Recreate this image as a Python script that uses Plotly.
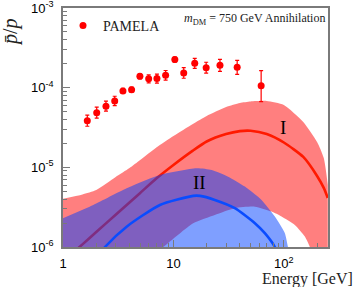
import math
import plotly.graph_objects as go

# ---------------- data ----------------
pamela_E = [1.66, 2.02, 2.45, 2.94, 3.49, 4.18, 4.97, 5.97, 7.09, 8.5,
            10.3, 12.4, 15.6, 19.8, 26.4, 37.8, 62.3]
pamela_ratio = [3.85e-5, 4.86e-5, 5.85e-5, 6.81e-5, 9.1e-5, 9.44e-5, 1.39e-4,
                1.29e-4, 1.30e-4, 1.43e-4, 2.25e-4, 1.53e-4, 2.02e-4, 1.78e-4,
                1.91e-4, 1.80e-4, 1.06e-4]
pamela_err_hi = [6.6e-6, 8.4e-6, 9.1e-6, 9.9e-6, 6.8e-6, 7.1e-6, 1.04e-5,
                 1.59e-5, 1.81e-5, 2.13e-5, 1.69e-5, 2.54e-5, 3.13e-5, 3.06e-5,
                 3.61e-5, 4.03e-5, 5.76e-5]
pamela_err_lo = [5.7e-6, 7.1e-6, 7.8e-6, 8.6e-6, 6.3e-6, 6.6e-6, 9.7e-6,
                 1.41e-5, 1.59e-5, 1.85e-5, 1.57e-5, 2.18e-5, 2.71e-5, 2.61e-5,
                 3.04e-5, 3.29e-5, 3.92e-5]

# Model I (red): band upper / lower edges and central curve
grid_E = [1, 1.5, 2, 3, 4, 5, 7, 10, 15, 20, 30, 40, 50, 70, 100, 150, 200, 230, 250]
red_band_hi = [4.02e-6, 4.57e-6, 5.20e-6, 7.58e-6, 9.82e-6, 1.24e-5, 1.78e-5,
               2.48e-5, 3.51e-5, 4.42e-5, 5.73e-5, 6.43e-5, 6.71e-5, 6.81e-5,
               6.07e-5, 3.71e-5, 2.08e-5, 1.31e-5, 6.02e-6]
red_line = [6.5e-7, 1.08e-6, 1.54e-6, 2.54e-6, 3.62e-6, 4.77e-6, 7.23e-6,
            1.07e-5, 1.62e-5, 2.11e-5, 2.62e-5, 2.85e-5, 2.88e-5, 2.62e-5,
            2.05e-5, 1.35e-5, 7.80e-6, 5.52e-6, 4.13e-6]
red_lo_E = [1, 3, 8.09, 15.1, 23.7, 36.0, 54.7, 77.4, 95.3, 125.8, 155, 172, 200, 250]
red_band_lo = [1.2e-7, 3.6e-7, 1.0e-6, 1.99e-6, 2.53e-6, 3.07e-6, 3.21e-6,
               2.78e-6, 2.41e-6, 1.89e-6, 1.35e-6, 1.0e-6, 5e-7, 2.5e-7]

# Model II (blue)
blue_hi_E = [1, 1.88, 3.77, 7.55, 16.2, 22.2, 31.3, 44.4, 62.8, 82.9, 102, 109, 130]
blue_band_hi = [2.30e-6, 3.37e-6, 5.47e-6, 8.03e-6, 9.75e-6, 9.27e-6, 7.64e-6,
                5.73e-6, 3.90e-6, 2.41e-6, 1.50e-6, 1.0e-6, 3e-7]
blue_lo_E = [1, 130]
blue_band_lo = [3e-7, 3e-7]
blue_line_E = [1, 2.40, 3.77, 7.55, 15.1, 17.4, 23.7, 36.0, 54.7, 67.3, 82.9, 100]
blue_line = [2e-7, 1.0e-6, 1.80e-6, 3.37e-6, 4.38e-6, 4.38e-6, 3.90e-6,
             3.07e-6, 1.99e-6, 1.49e-6, 1.0e-6, 5e-7]

# axis ticks
x_tickvals = [1, 10, 100]
x_ticktext = ["1", "10", "10<sup>2</sup>"]
y_tickvals = [1e-6, 1e-5, 1e-4, 1e-3]
y_ticktext = ["10<sup>-6</sup>", "10<sup>-5</sup>", "10<sup>-4</sup>", "10<sup>-3</sup>"]

# curve labels (position in data units)
label_I_pos = (98, 3.2e-5)
label_II_pos = (17.4, 6.4e-6)

# ---------------- figure ----------------
RED_FILL = "rgba(255,0,0,0.5)"
BLUE_FILL = "rgba(0,64,255,0.5)"
SERIF = "Liberation Serif"
SANS = "Liberation Sans"

fig = go.Figure()

fig.add_trace(go.Scatter(x=red_lo_E, y=red_band_lo, mode="lines",
                         line=dict(width=0, shape="spline", smoothing=0.6),
                         showlegend=False, hoverinfo="skip"))
fig.add_trace(go.Scatter(x=grid_E, y=red_band_hi, mode="lines", fill="tonexty",
                         fillcolor=RED_FILL,
                         line=dict(width=0, shape="spline", smoothing=0.6),
                         showlegend=False, hoverinfo="skip"))
fig.add_trace(go.Scatter(x=grid_E, y=red_line, mode="lines",
                         line=dict(color="#ff1a00", width=2.6, shape="spline", smoothing=0.6),
                         showlegend=False, hoverinfo="skip"))
fig.add_trace(go.Scatter(x=blue_lo_E, y=blue_band_lo, mode="lines",
                         line=dict(width=0),
                         showlegend=False, hoverinfo="skip"))
fig.add_trace(go.Scatter(x=blue_hi_E, y=blue_band_hi, mode="lines", fill="tonexty",
                         fillcolor=BLUE_FILL,
                         line=dict(width=0, shape="spline", smoothing=0.6),
                         showlegend=False, hoverinfo="skip"))
fig.add_trace(go.Scatter(x=blue_line_E, y=blue_line, mode="lines",
                         line=dict(color="#0a4cff", width=2.6, shape="spline", smoothing=0.6),
                         showlegend=False, hoverinfo="skip"))
fig.add_trace(go.Scatter(x=pamela_E, y=pamela_ratio, mode="markers", name="PAMELA",
                         marker=dict(color="#ff0000", size=7),
                         error_y=dict(type="data", array=pamela_err_hi,
                                      arrayminus=pamela_err_lo, color="#ff0000",
                                      thickness=1.2, width=2),
                         showlegend=True))

minor_x = [m * 10 ** d for d in range(0, 3) for m in range(2, 10)]
minor_y = [m * 10.0 ** d for d in range(-6, -3) for m in range(2, 10)]

axis_common = dict(type="log", showline=True, linecolor="#7a7a7a", linewidth=1.5,
                   mirror=True, ticks="inside", ticklen=7, tickcolor="#7a7a7a",
                   tickwidth=1, showgrid=False, zeroline=False, automargin=False,
                   ticklabeloverflow="allow",
                   tickfont=dict(family=SANS, size=13, color="black"))

fig.update_layout(
    width=356, height=287,
    margin=dict(l=63, r=28, t=8, b=40, autoexpand=False),
    paper_bgcolor="white", plot_bgcolor="white",
    xaxis=dict(range=[0, 2.4], tickmode="array", tickvals=x_tickvals,
               ticktext=x_ticktext, ticklabelstandoff=4,
               minor=dict(tickmode="array", tickvals=minor_x, ticks="inside",
                          ticklen=4, tickcolor="#7a7a7a", showgrid=False),
               **axis_common),
    yaxis=dict(range=[-6, -3], tickmode="array", tickvals=y_tickvals,
               ticktext=y_ticktext, ticklabelstandoff=5,
               minor=dict(tickmode="array", tickvals=minor_y, ticks="inside",
                          ticklen=4, tickcolor="#7a7a7a", showgrid=False),
               **axis_common),
    legend=dict(x=0.0, y=0.925, xanchor="left", yanchor="middle",
                bgcolor="rgba(0,0,0,0)", font=dict(family=SERIF, size=14, color="#222"),
                itemwidth=30, tracegroupgap=0),
    showlegend=True,
)

fig.add_annotation(x=math.log10(label_I_pos[0]), y=math.log10(label_I_pos[1]),
                   text="I", showarrow=False,
                   font=dict(family=SERIF, size=19, color="black"))
fig.add_annotation(x=math.log10(label_II_pos[0]), y=math.log10(label_II_pos[1]),
                   text="II", showarrow=False,
                   font=dict(family=SERIF, size=19, color="black"))
fig.add_annotation(xref="paper", yref="paper", x=0.996, y=0.997,
                   xanchor="right", yanchor="top",
                   text="<i>m</i><sub>DM</sub> = 750 GeV Annihilation", showarrow=False,
                   font=dict(family=SERIF, size=12, color="#222"))
fig.add_annotation(xref="paper", yref="paper", x=1.102, y=-0.135,
                   xanchor="right", yanchor="middle",
                   text="Energy [GeV]", showarrow=False,
                   font=dict(family=SERIF, size=16, color="#222"))
fig.add_annotation(xref="paper", yref="paper", x=-0.196, y=0.9,
                   xanchor="center", yanchor="middle", textangle=-90,
                   text="<i>p\u0304</i>/<i>p</i>", showarrow=False,
                   font=dict(family=SERIF, size=20, color="#222"))

fig.write_html("out.html", config={"displayModeBar": False},
               post_script="document.body.style.margin='0';")
